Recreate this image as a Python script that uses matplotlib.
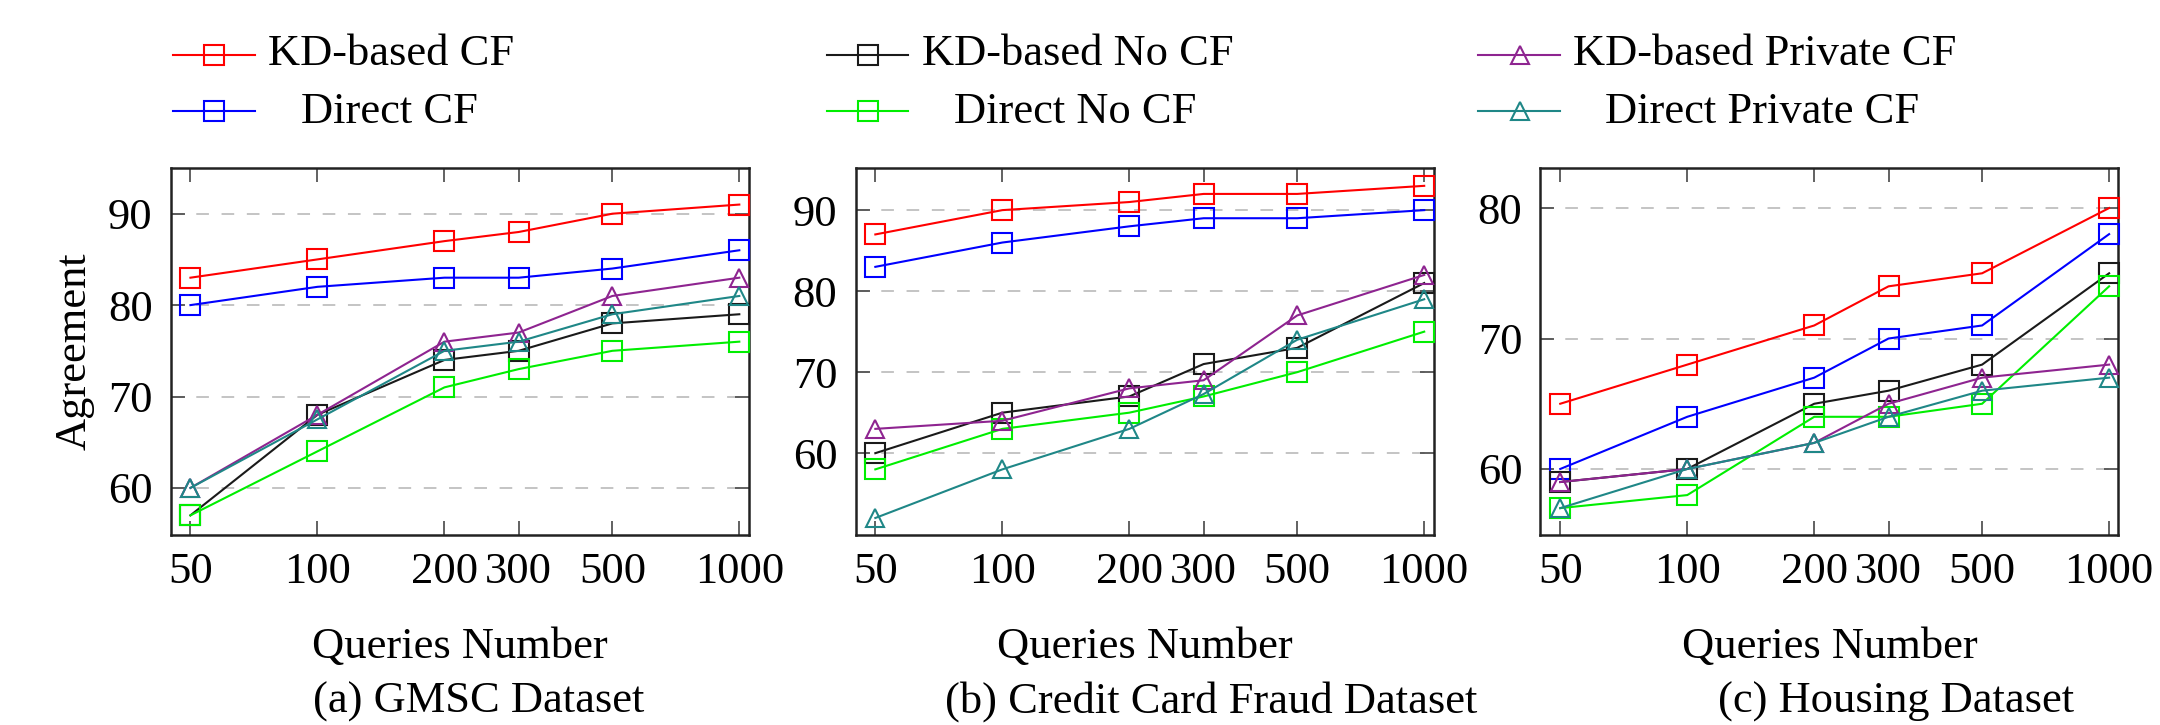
import matplotlib
matplotlib.use("Agg")
import matplotlib.pyplot as plt
from matplotlib.lines import Line2D
from matplotlib.ticker import FixedLocator, FixedFormatter, NullLocator

# ---------------- data ----------------
queries = [50, 100, 200, 300, 500, 1000]
query_labels = ["50", "100", "200", "300", "500", "1000"]

series_names = ["KD-based CF", "Direct CF", "KD-based No CF",
                "Direct No CF", "KD-based Private CF", "Direct Private CF"]

# (a) GMSC
gmsc_kd_cf = [83, 85, 87, 88, 90, 91]
gmsc_direct_cf = [80, 82, 83, 83, 84, 86]
gmsc_kd_nocf = [57, 68, 74, 75, 78, 79]
gmsc_direct_nocf = [57, 64, 71, 73, 75, 76]
gmsc_kd_private = [60, 68, 76, 77, 81, 83]
gmsc_direct_private = [60, 67.5, 75, 76, 79, 81]

# (b) Credit Card Fraud
ccf_kd_cf = [87, 90, 91, 92, 92, 93]
ccf_direct_cf = [83, 86, 88, 89, 89, 90]
ccf_kd_nocf = [60, 65, 67, 71, 73, 81]
ccf_direct_nocf = [58, 63, 65, 67, 70, 75]
ccf_kd_private = [63, 64, 68, 69, 77, 82]
ccf_direct_private = [52, 58, 63, 67.3, 74, 79]

# (c) Housing
house_kd_cf = [65, 68, 71, 74, 75, 80]
house_direct_cf = [60, 64, 67, 70, 71, 78]
house_kd_nocf = [59, 60, 65, 66, 68, 75]
house_direct_nocf = [57, 58, 64, 64, 65, 74]
house_kd_private = [59, 60, 62, 65, 67, 68]
house_direct_private = [57, 60, 62, 64, 66, 67]

captions = ["(a) GMSC Dataset", "(b) Credit Card Fraud Dataset", "(c) Housing Dataset"]
y_ticks = [[60, 70, 80, 90], [60, 70, 80, 90], [60, 70, 80]]
y_limits = [(54.85, 95.0), (49.9, 95.2), (54.94, 83.07)]

panels = [
    [gmsc_kd_cf, gmsc_direct_cf, gmsc_kd_nocf, gmsc_direct_nocf, gmsc_kd_private, gmsc_direct_private],
    [ccf_kd_cf, ccf_direct_cf, ccf_kd_nocf, ccf_direct_nocf, ccf_kd_private, ccf_direct_private],
    [house_kd_cf, house_direct_cf, house_kd_nocf, house_direct_nocf, house_kd_private, house_direct_private],
]

# ---------------- style ----------------
colors = ["#ff0000", "#0000ff", "#1a1a1a", "#00ee00", "#8e2490", "#1f8787"]
markers = ["s", "s", "s", "s", "^", "^"]
msizes = [14, 14, 14, 14, 13, 13]

plt.rcParams["font.family"] = ["Liberation Serif", "DejaVu Serif"]
FS = 32

W, H = 2160, 725
fig = plt.figure(figsize=(W / 100, H / 100), dpi=100)


def fx(px):
    return px / W


def fy(py):
    return 1 - py / H


axes_lefts = [170.6, 855.5, 1540.4]
ax_w = 578.0
ax_top, ax_bottom = 168.0, 535.0
caption_centers = [479, 1211, 1896]
xlim = (50 / 10 ** 0.047, 1000 * 10 ** 0.022)

for i, left in enumerate(axes_lefts):
    ax = fig.add_axes([fx(left), fy(ax_bottom), ax_w / W, (ax_bottom - ax_top) / H])
    ax.set_xscale("log")
    ax.set_xlim(*xlim)
    ax.set_ylim(*y_limits[i])
    ax.xaxis.set_major_locator(FixedLocator(queries))
    ax.xaxis.set_major_formatter(FixedFormatter(query_labels))
    ax.xaxis.set_minor_locator(NullLocator())
    ax.yaxis.set_major_locator(FixedLocator(y_ticks[i]))
    ax.yaxis.set_minor_locator(NullLocator())
    ax.set_yticklabels([str(v) for v in y_ticks[i]])

    ax.grid(axis="y", color="#c4c4c4", linestyle=(0, (6.5, 6.5)), linewidth=1.4, zorder=0)
    ax.set_axisbelow(True)
    ax.tick_params(axis="both", which="major", direction="in", length=10, width=1.3,
                   color="#555555", labelsize=FS, top=True, right=True)
    ax.tick_params(axis="x", pad=12)
    ax.tick_params(axis="y", pad=13)
    for sp in ax.spines.values():
        sp.set_linewidth(1.8)
        sp.set_color("#222222")

    for vals, c, m, ms in zip(panels[i], colors, markers, msizes):
        ax.plot(queries, vals, color=c, marker=m, markersize=ms, markerfacecolor="none",
                markeredgecolor=c, markeredgewidth=1.5, linewidth=1.5, clip_on=False, zorder=3)

    ax.set_xlabel("Queries Number", fontsize=FS)
    ax.xaxis.set_label_coords(0.5, (ax_bottom - 658) / (ax_bottom - ax_top))
    ax.xaxis.label.set_va("baseline")
    if i == 0:
        ax.set_ylabel("Agreement", fontsize=FS)
        ax.yaxis.set_label_coords((75 - left) / ax_w, 0.5)
        ax.yaxis.label.set_va("center")

    fig.text(fx(caption_centers[i]), fy(713), captions[i], fontsize=FS,
             ha="center", va="baseline")

# ---------------- legend (manual, 3 columns x 2 rows) ----------------
leg_lines = [(173, 255, 214), (173, 255, 214), (827, 908, 868), (827, 908, 868),
             (1478, 1560, 1520), (1478, 1560, 1520)]
leg_line_y = [55, 110.7, 55, 110.7, 55, 110.7]
leg_text_x = [268, 300.7, 922, 954, 1573, 1605]
leg_text_base = [65, 123, 65, 123, 65, 123]

for k, name in enumerate(series_names):
    x0, x1, xm = leg_lines[k]
    y = fy(leg_line_y[k])
    fig.add_artist(Line2D([fx(x0), fx(x1)], [y, y], transform=fig.transFigure,
                          color=colors[k], linewidth=1.5))
    fig.add_artist(Line2D([fx(xm)], [y], transform=fig.transFigure, color=colors[k],
                          marker=markers[k], markersize=msizes[k], markerfacecolor="none",
                          markeredgecolor=colors[k], markeredgewidth=1.5, linestyle="none"))
    fig.text(fx(leg_text_x[k]), fy(leg_text_base[k]), name, fontsize=FS,
             ha="left", va="baseline")

fig.savefig("out.png", dpi=100)
